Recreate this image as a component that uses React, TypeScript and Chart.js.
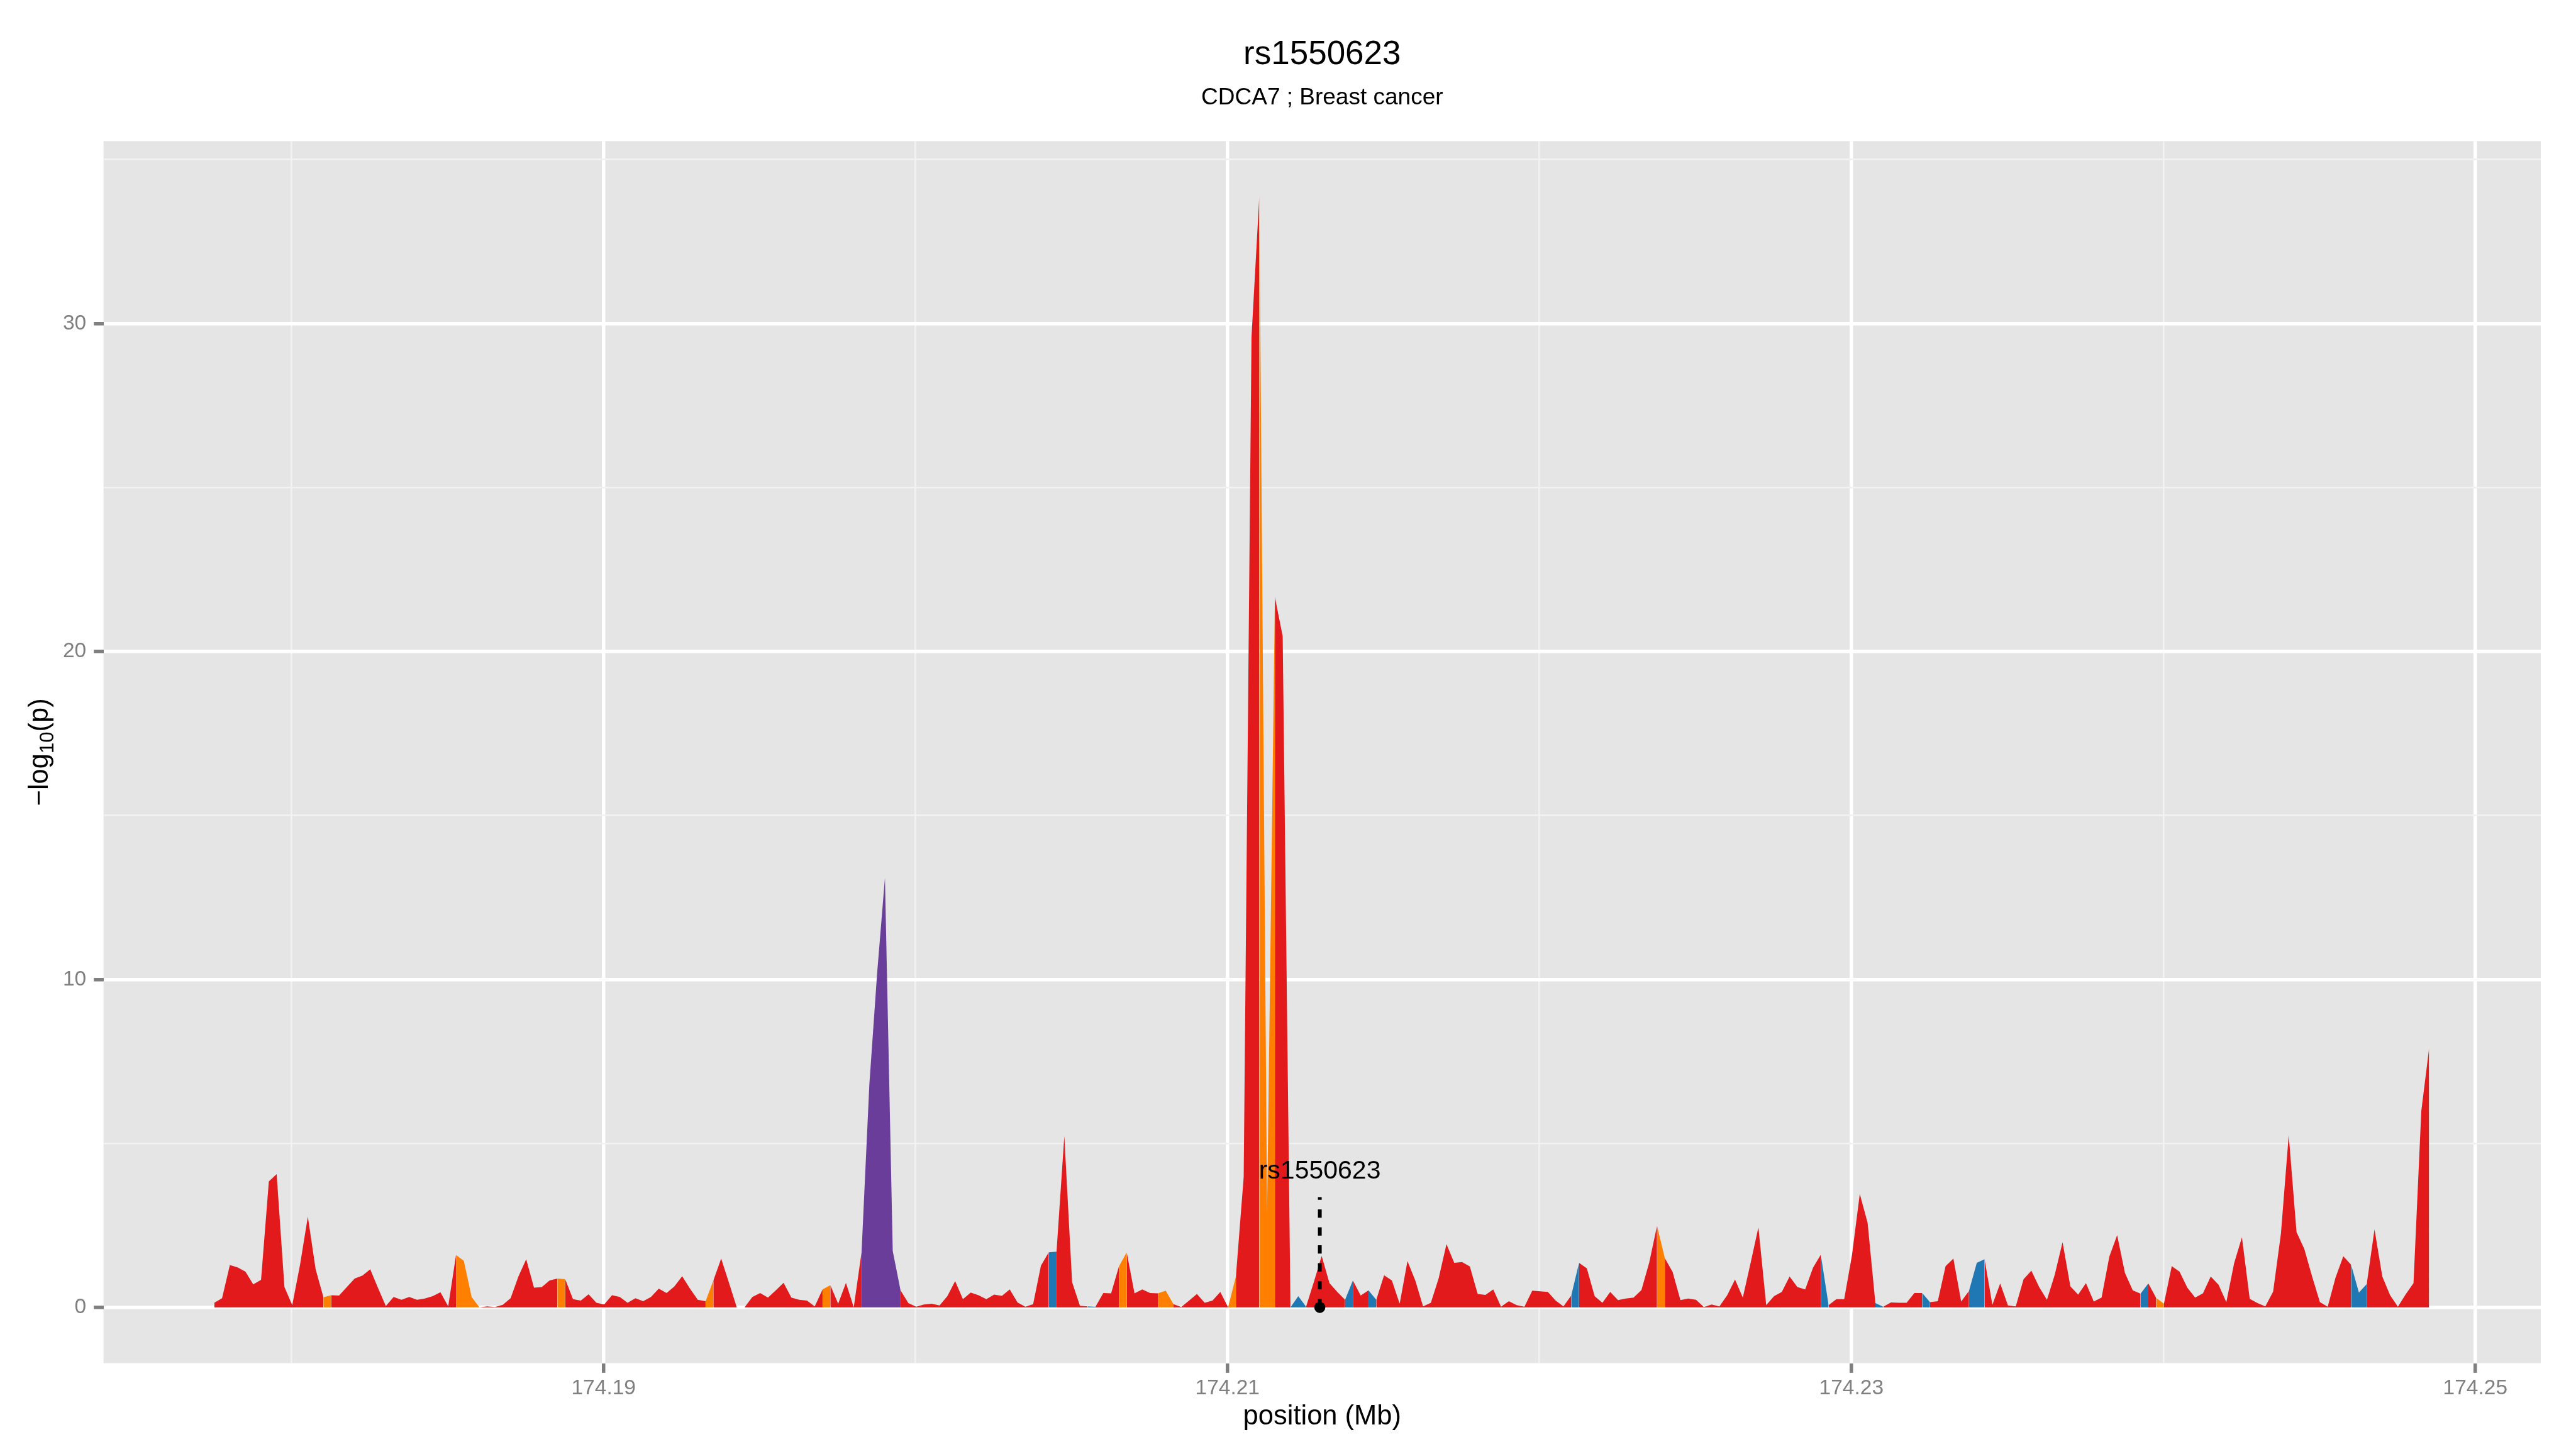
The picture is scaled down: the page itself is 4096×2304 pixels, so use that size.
import React, { useEffect, useRef } from 'react';
import { Chart, registerables } from 'chart.js';

Chart.register(...registerables);

// ---------- data ----------
const TITLE = 'rs1550623';
const SUBTITLE = 'CDCA7 ; Breast cancer';
const X_TITLE = 'position (Mb)';

// positions are on a regular 250 bp grid starting here (Mb)
const START_MB = 174.17752;
const STEP_MB = 0.00025;

// -log10(p) at each grid position
const logP = [
  0.14, 0.28, 1.29, 1.22, 1.09, 0.70, 0.84, 3.84, 4.06, 0.62,
  0.07, 1.30, 2.77, 1.16, 0.31, 0.37, 0.36, 0.62, 0.88, 0.97,
  1.16, 0.59, 0.04, 0.32, 0.23, 0.32, 0.23, 0.27, 0.34, 0.46,
  0.03, 1.60, 1.42, 0.32, 0.00, 0.03, 0.01, 0.08, 0.28, 0.94,
  1.47, 0.60, 0.62, 0.82, 0.88, 0.86, 0.25, 0.21, 0.40, 0.14,
  0.09, 0.37, 0.32, 0.14, 0.28, 0.19, 0.32, 0.57, 0.44, 0.64,
  0.95, 0.57, 0.23, 0.19, 0.82, 1.49, 0.75, 0.00, 0.00, 0.32,
  0.44, 0.30, 0.52, 0.75, 0.30, 0.23, 0.21, 0.03, 0.55, 0.68,
  0.11, 0.75, 0.00, 1.68, 6.80, 10.20, 13.10, 1.72, 0.52, 0.13,
  0.02, 0.09, 0.11, 0.06, 0.34, 0.80, 0.25, 0.45, 0.37, 0.25,
  0.39, 0.35, 0.55, 0.15, 0.02, 0.10, 1.27, 1.68, 1.70, 5.22,
  0.77, 0.05, 0.03, 0.02, 0.44, 0.43, 1.25, 1.68, 0.43, 0.55,
  0.44, 0.43, 0.51, 0.10, 0.01, 0.21, 0.41, 0.14, 0.21, 0.47,
  0.00, 0.94, 3.98, 29.58, 33.87, 2.94, 21.66, 20.46, 0.00, 0.34,
  0.02, 0.78, 1.57, 0.74, 0.47, 0.23, 0.82, 0.36, 0.52, 0.23,
  0.98, 0.82, 0.11, 1.41, 0.82, 0.03, 0.14, 0.89, 1.93, 1.36,
  1.38, 1.25, 0.41, 0.38, 0.55, 0.02, 0.19, 0.07, 0.02, 0.51,
  0.49, 0.47, 0.21, 0.03, 0.36, 1.36, 1.19, 0.34, 0.14, 0.47,
  0.22, 0.27, 0.30, 0.53, 1.37, 2.49, 1.50, 1.08, 0.22, 0.27,
  0.23, 0.01, 0.09, 0.03, 0.37, 0.85, 0.30, 1.36, 2.44, 0.07,
  0.34, 0.47, 0.94, 0.62, 0.55, 1.21, 1.61, 0.07, 0.25, 0.25,
  1.60, 3.46, 2.58, 0.13, 0.02, 0.15, 0.14, 0.14, 0.44, 0.44,
  0.16, 0.19, 1.26, 1.49, 0.18, 0.50, 1.36, 1.47, 0.08, 0.73,
  0.06, 0.03, 0.86, 1.12, 0.62, 0.23, 1.00, 1.99, 0.64, 0.39,
  0.74, 0.18, 0.30, 1.55, 2.20, 1.05, 0.52, 0.42, 0.73, 0.29,
  0.11, 1.26, 1.09, 0.60, 0.30, 0.43, 0.94, 0.69, 0.16, 1.35,
  2.14, 0.26, 0.13, 0.03, 0.48, 2.25, 5.25, 2.30, 1.78, 0.94,
  0.16, 0.02, 0.91, 1.56, 1.30, 0.45, 0.71, 2.38, 0.94, 0.37,
  0.02, 0.40, 0.74, 5.99, 7.90,
];

// intervals (index of left point) that are not red
const orangeIntervals = [14, 31, 32, 33, 44, 63, 67, 78, 116, 121, 122, 130, 134, 135, 185, 249];
const blueIntervals = [107, 112, 138, 139, 145, 148, 174, 206, 213, 219, 225, 226, 247, 274, 275];
const purpleIntervals = [83, 84, 85, 86, 87];

const xTicks = [174.18, 174.19, 174.2, 174.21, 174.22, 174.23, 174.24, 174.25];
const yTicks = [0, 5, 10, 15, 20, 25, 30, 35];

const SNP_ID = 'rs1550623';
const SNP_POS = 174.21296;
const SNP_LINE_TOP = 3.36;
const SNP_LABEL_Y = 3.93;

// ---------- style ----------
const RED = '#E31A1C';
const ORANGE = '#FF7F00';
const BLUE = '#1F78B4';
const PURPLE = '#6A3D9A';
const FONT = '"Liberation Sans", Arial, Helvetica, sans-serif';

const X_MIN = 174.17397;
const X_MAX = 174.2521;
const Y_MIN = -1.7;
const Y_MAX = 35.56;

const W = 4096;
const H = 2304;
const AREA = { left: 164.6, top: 224.3, right: 4040, bottom: 2167.5 };

function intervalColor(i: number): string {
  if (purpleIntervals.includes(i)) return PURPLE;
  if (orangeIntervals.includes(i)) return ORANGE;
  if (blueIntervals.includes(i)) return BLUE;
  return RED;
}

const isMajorX = (v: number) => Math.round(v * 100) % 2 === 1;
const isMajorY = (v: number) => Math.round(v) % 10 === 0;

const decor = {
  id: 'decor',
  beforeDraw(chart: any) {
    const { ctx, chartArea: a } = chart;
    ctx.save();
    ctx.fillStyle = '#FFFFFF';
    ctx.fillRect(0, 0, chart.width, chart.height);
    ctx.fillStyle = '#E5E5E5';
    ctx.fillRect(a.left, a.top, a.right - a.left, a.bottom - a.top);
    ctx.restore();
  },
  afterDatasetsDraw(chart: any) {
    const { ctx } = chart;
    const xs = chart.scales.x;
    const ys = chart.scales.y;
    const px = xs.getPixelForValue(SNP_POS);
    const y0 = ys.getPixelForValue(0);
    const yTop = ys.getPixelForValue(SNP_LINE_TOP);
    ctx.save();
    ctx.strokeStyle = '#000000';
    ctx.lineWidth = 6;
    ctx.lineCap = 'butt';
    ctx.setLineDash([13.4, 15.1]);
    ctx.beginPath();
    ctx.moveTo(px, y0);
    ctx.lineTo(px, yTop);
    ctx.stroke();
    ctx.setLineDash([]);
    ctx.fillStyle = '#000000';
    ctx.beginPath();
    ctx.arc(px, y0, 8.8, 0, Math.PI * 2);
    ctx.fill();
    ctx.font = `41px ${FONT}`;
    ctx.textAlign = 'center';
    ctx.textBaseline = 'alphabetic';
    ctx.fillText(SNP_ID, px, ys.getPixelForValue(SNP_LABEL_Y));
    ctx.restore();
  },
  afterDraw(chart: any) {
    const { ctx, chartArea: a } = chart;
    const cx = (a.left + a.right) / 2;
    const cy = (a.top + a.bottom) / 2;
    ctx.save();
    ctx.fillStyle = '#000000';
    ctx.textAlign = 'center';
    ctx.textBaseline = 'alphabetic';
    ctx.font = `53px ${FONT}`;
    ctx.fillText(TITLE, cx, 101.8);
    ctx.font = `37px ${FONT}`;
    ctx.fillText(SUBTITLE, cx, 166.3);
    ctx.font = `43.5px ${FONT}`;
    ctx.fillText(X_TITLE, cx, 2265);

    // y title: −log10(p) rotated
    const big = `43.5px ${FONT}`;
    const small = `31px ${FONT}`;
    const parts = [
      { t: '\u2212log', f: big, dy: 0 },
      { t: '10', f: small, dy: 9 },
      { t: '(p)', f: big, dy: 0 },
    ];
    let total = 0;
    const widths = parts.map((p) => {
      ctx.font = p.f;
      const w = ctx.measureText(p.t).width;
      total += w;
      return w;
    });
    ctx.translate(76.2, cy);
    ctx.rotate(-Math.PI / 2);
    ctx.textAlign = 'left';
    let x = -total / 2;
    parts.forEach((p, i) => {
      ctx.font = p.f;
      ctx.fillText(p.t, x, p.dy);
      x += widths[i];
    });
    ctx.restore();
  },
};

export default function App() {
  const ref = useRef<HTMLCanvasElement | null>(null);

  useEffect(() => {
    const canvas = ref.current;
    if (!canvas) return;
    const points = logP.map((v, i) => ({ x: START_MB + STEP_MB * i, y: v }));
    const chart = new Chart(canvas, {
      type: 'line',
      data: {
        datasets: [
          {
            data: points,
            fill: 'origin',
            backgroundColor: RED,
            borderColor: 'rgba(0,0,0,0)',
            borderWidth: 0,
            pointRadius: 0,
            pointHoverRadius: 0,
            tension: 0,
            segment: {
              backgroundColor: (c: any) => intervalColor(c.p0DataIndex),
            },
          } as any,
        ],
      },
      options: {
        animation: false,
        responsive: false,
        devicePixelRatio: 1,
        events: [],
        layout: {
          padding: { left: 0, top: AREA.top, right: W - AREA.right, bottom: 0 },
        },
        plugins: {
          legend: { display: false },
          title: { display: false },
          tooltip: { enabled: false },
        },
        scales: {
          x: {
            type: 'linear',
            min: X_MIN,
            max: X_MAX,
            afterBuildTicks: (s: any) => {
              s.ticks = xTicks.map((v) => ({ value: v }));
            },
            afterFit: (s: any) => {
              s.height = H - AREA.bottom;
            },
            border: { display: false },
            grid: {
              color: (c: any) => (isMajorX(c.tick.value) ? '#FFFFFF' : '#F2F2F2'),
              lineWidth: (c: any) => (isMajorX(c.tick.value) ? 5.5 : 2.6),
              tickColor: (c: any) => (isMajorX(c.tick.value) ? '#7F7F7F' : 'rgba(0,0,0,0)'),
              tickWidth: 5.5,
              tickLength: 15.4,
              drawTicks: true,
            },
            ticks: {
              autoSkip: false,
              maxRotation: 0,
              minRotation: 0,
              padding: 5,
              color: '#7F7F7F',
              font: { family: FONT, size: 33.5, lineHeight: 1.2 },
              callback: (v: any) => (isMajorX(Number(v)) ? Number(v).toFixed(2) : ''),
            },
          },
          y: {
            type: 'linear',
            min: Y_MIN,
            max: Y_MAX,
            afterBuildTicks: (s: any) => {
              s.ticks = yTicks.map((v) => ({ value: v }));
            },
            afterFit: (s: any) => {
              s.width = AREA.left;
            },
            border: { display: false },
            grid: {
              color: (c: any) => (isMajorY(c.tick.value) ? '#FFFFFF' : '#F2F2F2'),
              lineWidth: (c: any) => (isMajorY(c.tick.value) ? 5.5 : 2.6),
              tickColor: (c: any) => (isMajorY(c.tick.value) ? '#7F7F7F' : 'rgba(0,0,0,0)'),
              tickWidth: 5.5,
              tickLength: 15.4,
              drawTicks: true,
            },
            ticks: {
              autoSkip: false,
              padding: 12,
              color: '#7F7F7F',
              font: { family: FONT, size: 33.5, lineHeight: 1.2 },
              callback: (v: any) => (isMajorY(Number(v)) ? String(Math.round(Number(v))) : ''),
            },
          },
        },
      },
      plugins: [decor],
    } as any);
    return () => chart.destroy();
  }, []);

  return (
    <div style={{ position: 'fixed', left: 0, top: 0, width: W, height: H, background: '#FFFFFF' }}>
      <canvas ref={ref} width={W} height={H} style={{ display: 'block', width: W, height: H }} />
    </div>
  );
}
